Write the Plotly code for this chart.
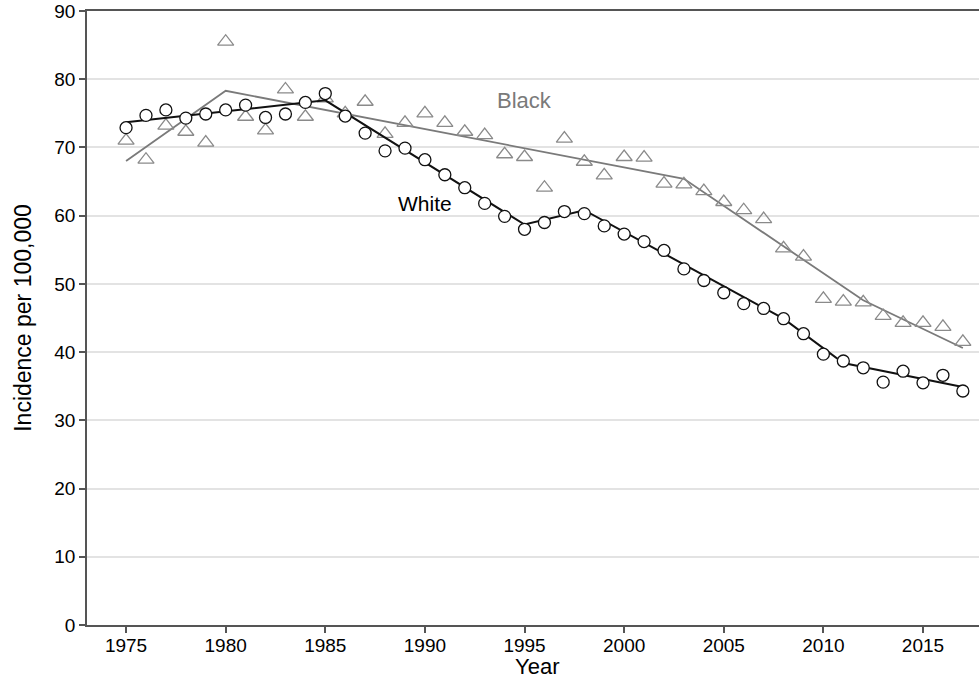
import plotly.graph_objects as go

years = list(range(1975, 2018))

white_rate = [72.9, 74.7, 75.5, 74.3, 74.9, 75.5, 76.2, 74.4, 74.9, 76.6, 77.9, 74.6, 72.1, 69.5, 69.9,
              68.2, 66.0, 64.1, 61.8, 59.9, 58.0, 59.0, 60.6, 60.3, 58.5, 57.3, 56.2, 54.9, 52.2, 50.5,
              48.7, 47.1, 46.4, 44.9, 42.7, 39.7, 38.7, 37.7, 35.6, 37.2, 35.5, 36.6, 34.3]

black_rate = [71.0, 68.2, 73.2, 72.3, 70.7, 85.5, 74.5, 72.5, 78.5, 74.5, 77.2, 75.0, 76.7, 72.0, 73.6,
              75.0, 73.6, 72.3, 71.8, 69.0, 68.6, 64.1, 71.3, 67.9, 65.9, 68.6, 68.5, 64.7, 64.6, 63.6,
              62.0, 60.8, 59.5, 55.2, 54.0, 47.8, 47.4, 47.3, 45.3, 44.3, 44.3, 43.7, 41.5]

white_fit_years = [1975, 1985, 1995, 1998, 2008, 2011, 2017]
white_fit = [73.7, 76.9, 58.7, 60.8, 44.9, 38.4, 34.9]

black_fit_years = [1975, 1980, 2003, 2012, 2017]
black_fit = [68.0, 78.3, 65.4, 47.6, 40.6]

x_ticks = [1975, 1980, 1985, 1990, 1995, 2000, 2005, 2010, 2015]
y_ticks = [0, 10, 20, 30, 40, 50, 60, 70, 80, 90]

GRAY = "#7a7a7a"
FONT = "Liberation Sans, Arial, sans-serif"

fig = go.Figure()

fig.add_trace(go.Scatter(x=black_fit_years, y=black_fit, mode="lines",
                         line=dict(color=GRAY, width=1.8), hoverinfo="skip", showlegend=False))
fig.add_trace(go.Scatter(x=years, y=black_rate, mode="markers",
                         marker=dict(symbol="triangle-up", size=14, color="rgba(255,255,255,0)",
                                     line=dict(color="#8a8a8a", width=1.3)),
                         showlegend=False))
fig.add_trace(go.Scatter(x=white_fit_years, y=white_fit, mode="lines",
                         line=dict(color="#111111", width=2), hoverinfo="skip", showlegend=False))
fig.add_trace(go.Scatter(x=years, y=white_rate, mode="markers",
                         marker=dict(symbol="circle", size=12, color="white",
                                     line=dict(color="#111111", width=1.3)),
                         showlegend=False))

fig.add_annotation(x=1995.0, y=76.9, text="Black", showarrow=False,
                   font=dict(family=FONT, size=22, color=GRAY))
fig.add_annotation(x=1990.0, y=61.8, text="White", showarrow=False,
                   font=dict(family=FONT, size=21, color="#000000"))
# x-axis title placed as paper annotation
fig.add_annotation(x=0.505, xref="paper", y=-0.067, yref="paper", text="Year",
                   showarrow=False, yanchor="middle", xanchor="center",
                   font=dict(family=FONT, size=22, color="#000000"))

fig.update_layout(
    width=979, height=678,
    margin=dict(l=87, r=0, t=11, b=53, pad=0),
    paper_bgcolor="white", plot_bgcolor="white",
    font=dict(family=FONT, size=19, color="#000000"),
    showlegend=False,
)
fig.update_xaxes(
    range=[1973.04, 2017.81], tickvals=x_ticks, ticktext=[str(t) for t in x_ticks],
    showgrid=False, zeroline=False, showline=True, linecolor="#555555", linewidth=1.5,
    mirror=True, ticks="outside", ticklen=6, tickwidth=1.5, tickcolor="#555555",
    tickfont=dict(family=FONT, size=19), automargin=False,
)
try:
    fig.update_xaxes(ticklabelstandoff=-4)
except Exception:
    pass
fig.update_yaxes(
    range=[0, 90], tickvals=y_ticks, ticktext=[str(t) for t in y_ticks],
    showgrid=True, gridcolor="#e3e3e3", gridwidth=1.5, zeroline=False,
    showline=True, linecolor="#555555", linewidth=1.5,
    ticks="outside", ticklen=6, tickwidth=1.5, tickcolor="#555555",
    tickfont=dict(family=FONT, size=19), automargin=False,
    title=dict(text="Incidence per 100,000", font=dict(family=FONT, size=23), standoff=16),
)

fig.write_html("out.html", config={"displayModeBar": False},
               post_script="document.body.style.margin='0';document.body.style.overflow='hidden';")
